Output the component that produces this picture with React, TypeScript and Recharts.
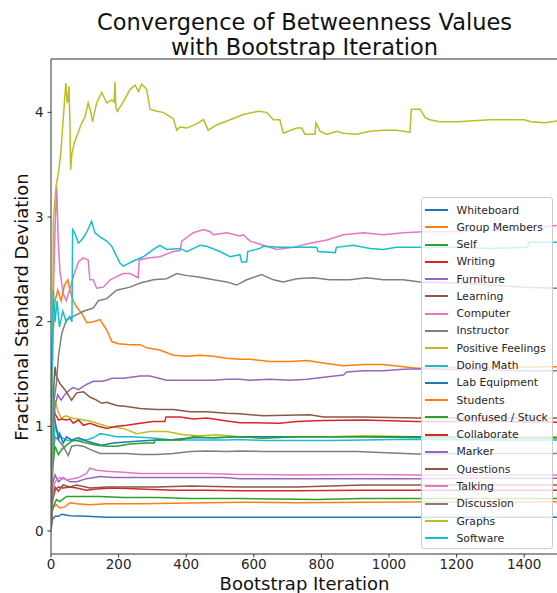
import { LineChart, Line, XAxis, YAxis, ReferenceLine } from "recharts"

type Pt = [number, number]

// iteration, fractional std
const whiteboard: Pt[] = [[0, 0], [3, 0.1], [7, 0.12], [12, 0.14], [22, 0.14], [32, 0.16], [56, 0.145], [106, 0.14], [165, 0.13], [243, 0.13], [400, 0.13], [559, 0.13], [800, 0.13], [1100, 0.13], [1300, 0.13], [1500, 0.13]]
const groupMembers: Pt[] = [[0, 0], [4, 0.18], [7, 0.23], [16, 0.25], [26, 0.22], [41, 0.23], [56, 0.27], [76, 0.26], [115, 0.25], [165, 0.26], [264, 0.26], [362, 0.265], [461, 0.27], [559, 0.275], [727, 0.27], [924, 0.275], [1082, 0.277], [1300, 0.277], [1500, 0.28]]
const self: Pt[] = [[0, 0], [4, 0.2], [7, 0.23], [16, 0.3], [26, 0.28], [46, 0.33], [66, 0.33], [96, 0.33], [145, 0.33], [214, 0.32], [313, 0.32], [412, 0.31], [559, 0.31], [786, 0.3], [924, 0.31], [1082, 0.31], [1300, 0.31], [1500, 0.31]]
const writing: Pt[] = [[0, 0], [5, 0.3], [12, 0.39], [22, 0.42], [36, 0.41], [56, 0.42], [76, 0.41], [105, 0.39], [135, 0.4], [184, 0.41], [264, 0.4], [362, 0.39], [461, 0.39], [559, 0.385], [727, 0.385], [924, 0.39], [1082, 0.39], [1300, 0.39], [1500, 0.39]]
const furniture: Pt[] = [[0, 0], [5, 0.45], [12, 0.535], [22, 0.47], [36, 0.51], [56, 0.47], [76, 0.47], [105, 0.5], [145, 0.52], [184, 0.51], [244, 0.51], [313, 0.51], [412, 0.51], [510, 0.51], [559, 0.5], [727, 0.5], [924, 0.5], [1082, 0.5], [1300, 0.505], [1500, 0.505]]
const learning: Pt[] = [[0, 0], [5, 0.35], [12, 0.42], [22, 0.38], [36, 0.44], [56, 0.42], [76, 0.44], [115, 0.41], [165, 0.42], [224, 0.42], [313, 0.42], [412, 0.43], [559, 0.42], [727, 0.42], [924, 0.44], [1082, 0.44], [1300, 0.44], [1500, 0.44]]
const computer: Pt[] = [[0, 0], [5, 0.35], [10, 0.45], [16, 0.49], [26, 0.51], [46, 0.49], [66, 0.5], [81, 0.51], [105, 0.55], [115, 0.6], [135, 0.58], [165, 0.57], [214, 0.56], [264, 0.55], [362, 0.55], [461, 0.55], [559, 0.54], [727, 0.535], [924, 0.54], [1082, 0.535], [1300, 0.535], [1500, 0.535]]
const instructor: Pt[] = [[0, 0], [5, 0.7], [12, 0.9], [22, 0.87], [36, 0.81], [51, 0.72], [61, 0.81], [76, 0.82], [96, 0.81], [115, 0.78], [145, 0.74], [184, 0.74], [224, 0.74], [264, 0.73], [313, 0.73], [362, 0.74], [412, 0.76], [461, 0.765], [520, 0.76], [559, 0.765], [628, 0.76], [766, 0.76], [904, 0.76], [1082, 0.735], [1300, 0.74], [1500, 0.74]]
const positiveFeelings: Pt[] = [[0, 0], [5, 0.9], [12, 1.25], [20, 1.15], [30, 1.08], [45, 1.1], [61, 1.08], [96, 1.06], [115, 1.05], [165, 1.0], [214, 0.98], [254, 0.93], [293, 0.95], [342, 0.95], [392, 0.92], [441, 0.91], [490, 0.92], [559, 0.9], [628, 0.9], [826, 0.9], [924, 0.91], [1082, 0.9], [1300, 0.9], [1400, 0.895], [1500, 0.9]]
const doingMath: Pt[] = [[0, 0], [5, 0.7], [12, 1.0], [20, 0.95], [26, 0.9], [46, 0.87], [66, 0.86], [81, 0.87], [105, 0.87], [125, 0.89], [145, 0.93], [165, 0.92], [194, 0.9], [234, 0.9], [293, 0.89], [362, 0.87], [441, 0.87], [520, 0.87], [559, 0.875], [628, 0.865], [826, 0.865], [1022, 0.875], [1082, 0.875], [1300, 0.87], [1500, 0.87]]
const labEquipment: Pt[] = [[0, 0], [4, 0.8], [7, 1.17], [12, 1.05], [22, 0.87], [26, 0.93], [36, 0.84], [46, 0.9], [61, 0.87], [81, 0.89], [105, 0.86], [125, 0.84], [150, 0.82], [184, 0.84], [224, 0.85], [264, 0.86], [313, 0.87], [362, 0.875], [421, 0.89], [481, 0.89], [559, 0.9], [700, 0.9], [900, 0.9], [1100, 0.9], [1300, 0.89], [1500, 0.89]]
const students: Pt[] = [[0, 0], [5, 1.8], [12, 2.2], [20, 2.3], [30, 2.2], [40, 2.35], [50, 2.4], [56, 2.3], [66, 2.2], [76, 2.14], [91, 2.08], [106, 1.99], [125, 2.0], [145, 2.02], [165, 1.92], [180, 1.81], [199, 1.79], [234, 1.78], [264, 1.78], [283, 1.75], [322, 1.73], [362, 1.68], [402, 1.67], [441, 1.68], [481, 1.67], [520, 1.65], [559, 1.64], [589, 1.64], [648, 1.62], [707, 1.62], [757, 1.63], [816, 1.6], [865, 1.58], [924, 1.59], [983, 1.59], [1042, 1.57], [1082, 1.555], [1300, 1.565], [1500, 1.57]]
const confused: Pt[] = [[0, 0], [5, 0.6], [12, 0.81], [22, 0.73], [32, 0.78], [46, 0.82], [66, 0.87], [81, 0.86], [105, 0.84], [135, 0.82], [165, 0.81], [194, 0.81], [234, 0.83], [283, 0.84], [305, 0.84], [308, 0.87], [382, 0.87], [421, 0.9], [481, 0.89], [559, 0.9], [628, 0.885], [727, 0.9], [924, 0.9], [1082, 0.89], [1300, 0.89], [1500, 0.89]]
const collaborate: Pt[] = [[0, 0], [4, 0.9], [7, 1.19], [12, 1.12], [22, 1.06], [32, 1.07], [46, 1.06], [56, 1.07], [66, 1.03], [81, 1.06], [96, 1.01], [115, 1.03], [140, 1.0], [165, 0.98], [194, 1.0], [224, 1.01], [264, 1.03], [303, 1.045], [337, 1.045], [340, 1.09], [382, 1.09], [421, 1.07], [461, 1.08], [520, 1.05], [559, 1.035], [579, 1.035], [677, 1.03], [727, 1.045], [806, 1.055], [924, 1.06], [1082, 1.045], [1300, 1.045], [1500, 1.04]]
const marker: Pt[] = [[0, 0], [5, 0.9], [12, 1.2], [20, 1.3], [30, 1.25], [40, 1.3], [56, 1.35], [66, 1.37], [81, 1.35], [105, 1.4], [125, 1.43], [150, 1.43], [165, 1.44], [180, 1.46], [214, 1.46], [264, 1.48], [293, 1.48], [342, 1.44], [382, 1.44], [431, 1.44], [481, 1.44], [520, 1.45], [559, 1.45], [589, 1.44], [648, 1.45], [707, 1.44], [757, 1.45], [826, 1.475], [865, 1.49], [875, 1.52], [924, 1.53], [983, 1.53], [1042, 1.545], [1100, 1.55], [1200, 1.54], [1300, 1.54], [1400, 1.53], [1500, 1.53]]
const questions: Pt[] = [[0, 0], [5, 1.2], [12, 1.57], [16, 1.48], [26, 1.41], [41, 1.35], [61, 1.25], [76, 1.32], [96, 1.33], [115, 1.28], [135, 1.25], [150, 1.22], [165, 1.23], [194, 1.2], [224, 1.19], [264, 1.17], [313, 1.16], [362, 1.16], [412, 1.14], [461, 1.14], [520, 1.125], [559, 1.12], [628, 1.1], [766, 1.11], [806, 1.09], [924, 1.09], [1082, 1.08], [1300, 1.08], [1500, 1.08]]
const talking: Pt[] = [[0, 0], [5, 2.0], [12, 2.9], [17, 3.29], [21, 2.81], [26, 2.5], [36, 2.27], [45, 2.2], [55, 2.3], [66, 2.43], [81, 2.57], [95, 2.61], [110, 2.59], [115, 2.4], [125, 2.4], [135, 2.32], [155, 2.33], [175, 2.4], [194, 2.43], [214, 2.46], [234, 2.46], [258, 2.42], [261, 2.59], [293, 2.61], [322, 2.62], [362, 2.67], [382, 2.68], [387, 2.77], [421, 2.85], [451, 2.88], [471, 2.86], [481, 2.83], [520, 2.85], [559, 2.82], [569, 2.83], [589, 2.77], [628, 2.73], [668, 2.69], [717, 2.71], [766, 2.75], [816, 2.78], [865, 2.83], [924, 2.85], [983, 2.83], [1042, 2.85], [1101, 2.86], [1200, 2.86], [1300, 2.87], [1400, 2.89], [1500, 2.92]]
const discussion: Pt[] = [[0, 0], [7, 1.2], [16, 1.41], [22, 1.67], [32, 1.89], [46, 2.02], [66, 2.05], [96, 2.1], [125, 2.13], [140, 2.2], [165, 2.22], [194, 2.3], [234, 2.33], [264, 2.37], [303, 2.4], [342, 2.41], [372, 2.46], [402, 2.44], [431, 2.43], [481, 2.4], [520, 2.38], [549, 2.35], [579, 2.4], [623, 2.45], [658, 2.4], [687, 2.38], [727, 2.41], [776, 2.42], [825, 2.4], [884, 2.4], [934, 2.42], [983, 2.4], [1042, 2.4], [1092, 2.38], [1200, 2.37], [1300, 2.35], [1400, 2.33], [1500, 2.32]]
const graphs: Pt[] = [[0, 0], [4, 1.6], [7, 2.97], [15, 3.3], [22, 3.42], [29, 3.61], [36, 3.93], [44, 4.28], [48, 4.1], [51, 4.12], [53, 4.25], [56, 3.9], [58, 3.45], [62, 3.61], [70, 3.72], [76, 3.77], [91, 3.9], [100, 3.95], [110, 4.09], [118, 4.0], [123, 3.91], [135, 4.09], [150, 4.19], [165, 4.09], [180, 4.12], [187, 4.1], [189, 4.29], [192, 4.05], [196, 4.01], [214, 4.1], [234, 4.22], [249, 4.26], [259, 4.2], [268, 4.27], [283, 4.22], [293, 4.03], [313, 4.01], [332, 4.0], [352, 3.96], [362, 3.94], [372, 3.83], [382, 3.86], [402, 3.85], [431, 3.89], [451, 3.93], [465, 3.83], [490, 3.88], [530, 3.93], [569, 3.98], [613, 4.01], [638, 4.0], [658, 3.93], [677, 3.93], [687, 3.8], [727, 3.85], [742, 3.85], [751, 3.79], [781, 3.79], [784, 3.9], [796, 3.82], [816, 3.79], [845, 3.82], [865, 3.8], [904, 3.79], [944, 3.82], [983, 3.83], [1022, 3.83], [1062, 3.81], [1066, 4.03], [1092, 4.03], [1107, 3.95], [1121, 3.93], [1150, 3.91], [1200, 3.91], [1250, 3.92], [1300, 3.93], [1350, 3.93], [1400, 3.93], [1420, 3.91], [1460, 3.9], [1500, 3.92]]
const software: Pt[] = [[0, 0], [3, 1.5], [7, 2.3], [12, 2.0], [18, 2.2], [25, 1.95], [35, 2.1], [45, 2.0], [55, 2.05], [62, 2.0], [64, 2.88], [70, 2.85], [81, 2.75], [95, 2.8], [105, 2.85], [120, 2.96], [130, 2.85], [145, 2.81], [165, 2.77], [180, 2.72], [204, 2.56], [214, 2.53], [244, 2.58], [273, 2.62], [303, 2.69], [322, 2.73], [342, 2.69], [382, 2.7], [402, 2.67], [441, 2.73], [461, 2.72], [500, 2.67], [530, 2.62], [559, 2.64], [564, 2.57], [579, 2.57], [582, 2.67], [618, 2.7], [628, 2.72], [677, 2.71], [727, 2.71], [786, 2.71], [790, 2.67], [841, 2.66], [844, 2.71], [894, 2.73], [944, 2.7], [983, 2.69], [1022, 2.71], [1081, 2.71], [1200, 2.71], [1300, 2.7], [1410, 2.71], [1414, 2.76], [1500, 2.76]]

const names = ["Whiteboard", "Group Members", "Self", "Writing", "Furniture", "Learning", "Computer", "Instructor", "Positive Feelings", "Doing Math", "Lab Equipment", "Students", "Confused / Stuck", "Collaborate", "Marker", "Questions", "Talking", "Discussion", "Graphs", "Software"]
const seriesData = [whiteboard, groupMembers, self, writing, furniture, learning, computer, instructor, positiveFeelings, doingMath, labEquipment, students, confused, collaborate, marker, questions, talking, discussion, graphs, software]
const palette = ["#1f77b4", "#ff7f0e", "#2ca02c", "#d62728", "#9467bd", "#8c564b", "#e377c2", "#7f7f7f", "#bcbd22", "#17becf"]

const xTicks = [0, 200, 400, 600, 800, 1000, 1200, 1400]
const yTicks = [0, 1, 2, 3, 4]

const FONT = "'DejaVu Sans', sans-serif"
const INK = "#262626"

const series = names.map((name, i) => ({
  name,
  color: palette[i % 10],
  data: seriesData[i].map(([x, y]) => ({ x, y })),
}))

export default function App() {
  return (
    <div
      style={{
        position: "absolute",
        left: 0,
        top: 0,
        width: 557,
        height: 593,
        overflow: "hidden",
        background: "#fff",
        fontFamily: FONT,
      }}
    >
      <div
        style={{
          position: "absolute",
          left: 0,
          width: 609,
          top: 9.5,
          textAlign: "center",
          fontSize: 22.5,
          lineHeight: "25px",
          color: "#111",
        }}
      >
        Convergence of Betweenness Values
        <br />
        with Bootstrap Iteration
      </div>

      <LineChart width={560} height={593} margin={{ top: 59, right: 2, left: 0, bottom: 0 }}>
        <XAxis
          dataKey="x"
          type="number"
          domain={[0, 1500]}
          ticks={xTicks}
          height={39}
          stroke="#333"
          tickSize={3.5}
          tickMargin={2}
          tick={{ fontSize: 13.5, fill: INK, fontFamily: FONT }}
          allowDataOverflow
        />
        <YAxis
          type="number"
          domain={[-0.22, 4.51]}
          ticks={yTicks}
          width={51}
          stroke="#333"
          tickSize={3.5}
          tickMargin={4}
          tick={{ fontSize: 13.5, fill: INK, fontFamily: FONT }}
          allowDataOverflow
        />
        <ReferenceLine y={4.51} stroke="#333" strokeWidth={1} />
        {series.map((s) => (
          <Line
            key={s.name}
            data={s.data}
            dataKey="y"
            name={s.name}
            type="linear"
            stroke={s.color}
            strokeWidth={1.5}
            dot={false}
            activeDot={false}
            isAnimationActive={false}
          />
        ))}
      </LineChart>

      <div
        style={{
          position: "absolute",
          left: 304.5,
          top: 575,
          transform: "translateX(-50%)",
          fontSize: 18,
          lineHeight: "18px",
          whiteSpace: "nowrap",
          color: "#111",
        }}
      >
        Bootstrap Iteration
      </div>
      <div
        style={{
          position: "absolute",
          left: 21.5,
          top: 307,
          transform: "translate(-50%, -50%) rotate(-90deg)",
          fontSize: 18,
          lineHeight: "18px",
          whiteSpace: "nowrap",
          color: "#111",
        }}
      >
        Fractional Standard Deviation
      </div>

      {/* legend box, semi transparent like matplotlib's */}
      <div
        style={{
          position: "absolute",
          left: 421,
          top: 197,
          width: 130,
          height: 350,
          border: "1px solid #cccccc",
          borderRadius: 3,
          background: "rgba(255,255,255,0.8)",
        }}
      >
        {series.map((s, i) => (
          <div
            key={s.name}
            style={{
              position: "absolute",
              left: 0,
              top: 12 + i * 17.28 - 8,
              height: 16,
              display: "flex",
              alignItems: "center",
            }}
          >
            <div
              style={{
                marginLeft: 3,
                width: 23,
                height: 2,
                flexShrink: 0,
                background: s.color,
              }}
            />
            <span style={{ marginLeft: 8.5, fontSize: 10.8, color: INK, whiteSpace: "nowrap" }}>{s.name}</span>
          </div>
        ))}
      </div>
    </div>
  )
}
